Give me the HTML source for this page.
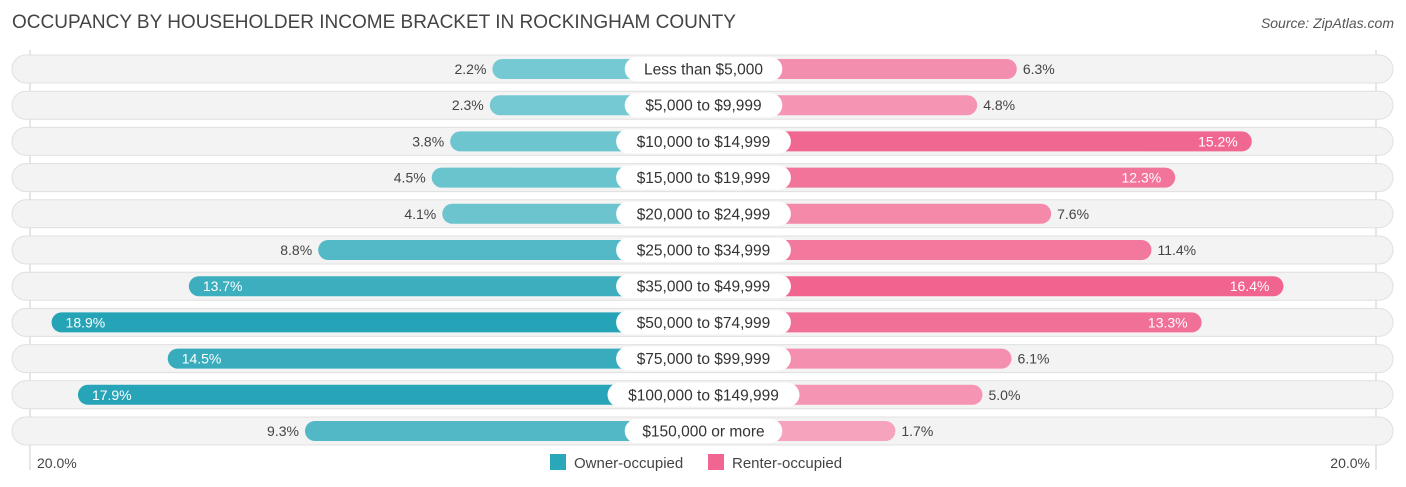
<!DOCTYPE html>
<html><head><meta charset="utf-8"><style>
body{margin:0;background:#fff;font-family:"Liberation Sans",sans-serif;}
#c{position:relative;width:1406px;height:487px;overflow:hidden}
</style></head><body>
<div id="c">
<svg id="s" width="1406" height="487" xmlns="http://www.w3.org/2000/svg">
<text x="12" y="28" font-size="19" fill="#444">OCCUPANCY BY HOUSEHOLDER INCOME BRACKET IN ROCKINGHAM COUNTY</text>
<text x="1394" y="28" font-size="14" fill="#555" font-style="italic" text-anchor="end">Source: ZipAtlas.com</text>
<line x1="30" y1="50" x2="30" y2="470" stroke="#ccc"/>
<line x1="1376" y1="50" x2="1376" y2="470" stroke="#ccc"/>
<text x="37" y="468" font-size="14" fill="#444">20.0%</text>
<text x="1370" y="468" font-size="14" fill="#444" text-anchor="end">20.0%</text>
<rect x="550" y="454" width="16" height="16" fill="#2aa7b8"/>
<text x="574" y="468" font-size="15" fill="#444">Owner-occupied</text>
<rect x="708" y="454" width="16" height="16" fill="#f06690"/>
<text x="732" y="468" font-size="15" fill="#444">Renter-occupied</text>
<g id="rows"></g>
</svg>
</div>
<script>
const categories=["Less than $5,000","$5,000 to $9,999","$10,000 to $14,999","$15,000 to $19,999","$20,000 to $24,999","$25,000 to $34,999","$35,000 to $49,999","$50,000 to $74,999","$75,000 to $99,999","$100,000 to $149,999","$150,000 or more"];
const ownerValues=[2.2,2.3,3.8,4.5,4.1,8.8,13.7,18.9,14.5,17.9,9.3];
const renterValues=[6.3,4.8,15.2,12.3,7.6,11.4,16.4,13.3,6.1,5.0,1.7];
const NS="http://www.w3.org/2000/svg";
const CX=700.5,GAP=150,SC=26.4,Y0=69,DY=36.2,BH=20;
const xL=v=>CX-GAP-v*SC, xR=v=>CX+GAP+v*SC, yRow=i=>Y0+i*DY;
function mix(a,b,t){return "rgb("+a.map((c,k)=>Math.round(c+(b[k]-c)*t)).join(",")+")";}
const g=document.getElementById("rows");
function mk(tag,attrs){const e=document.createElementNS(NS,tag);for(const k in attrs)e.setAttribute(k,attrs[k]);g.appendChild(e);return e;}
categories.forEach((cat,i)=>{
  const y=yRow(i);
  const bg=mk("rect",{x:12,y:y-14,width:1381,height:28,rx:14,fill:"#f3f3f3",stroke:"#e0e0e0"});
  
  
  const o=ownerValues[i],r=renterValues[i];
  const tO=Math.min(1,o/18),tR=Math.min(1,r/16);
  const ob=mk("rect",{x:xL(o),y:y-BH/2,width:CX-xL(o),height:BH,rx:10,fill:mix([128,206,214],[38,164,183],tO)});
  
  
  const rb=mk("rect",{x:CX,y:y-BH/2,width:xR(r)-CX,height:BH,rx:10,fill:mix([247,170,195],[240,100,143],tR)});
  
  
  const oIn=o>12, rIn=r>12;
  const ot=mk("text",{x:oIn?xL(o)+14:xL(o)-6,y:y+5,"font-size":14,fill:oIn?"#fff":"#444","text-anchor":oIn?"start":"end"});
  ot.textContent=o.toFixed(1)+"%";
  
  
  const rt=mk("text",{x:rIn?xR(r)-14:xR(r)+6,y:y+5,"font-size":14,fill:rIn?"#fff":"#444","text-anchor":rIn?"end":"start"});
  rt.textContent=r.toFixed(1)+"%";
  
  
  const w=cat.length*8.6+20;
  const lb=mk("rect",{x:CX+3-w/2,y:y-12,width:w,height:24,rx:12,fill:"#fff"});
  
  
  const lt=mk("text",{x:CX+3,y:y+5.5,"font-size":15.5,fill:"#333","text-anchor":"middle"});
  lt.textContent=cat;
  
  
});
</script>
</body></html>
